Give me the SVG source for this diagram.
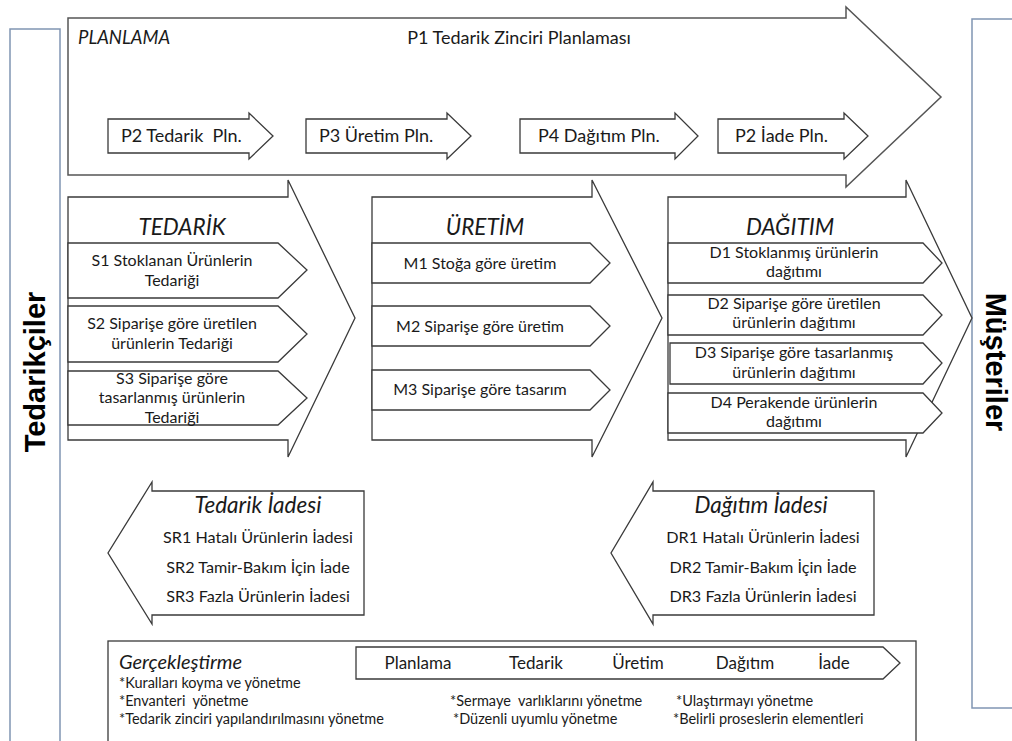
<svg xmlns="http://www.w3.org/2000/svg" width="1012" height="741" viewBox="0 0 1012 741">
  <style>
    .shape { fill: #ffffff; stroke: #3a3a3a; stroke-width: 1.3; stroke-linejoin: miter; }
    .plan { fill: #ffffff; stroke: #555555; stroke-width: 1.5; }
    .side { fill: #ffffff; stroke: #8095b3; stroke-width: 1.5; }
    text { font-family: Lato, "Open Sans", "DejaVu Sans", sans-serif; fill: #1a1a1a; white-space: pre; }
    .c { text-anchor: middle; }
    .it { font-style: italic; }
    .p { font-size: 18px; }
    .title { font-size: 22.5px; font-style: italic; text-anchor: middle; }
    .sub { font-size: 16px; text-anchor: middle; }
    .ret { font-size: 16.2px; text-anchor: middle; }
    .lbl { font-size: 17px; text-anchor: middle; }
    .note { font-size: 14.5px; }
    .side-label { font-family: "Liberation Sans", Arial, sans-serif; font-weight: bold; font-size: 29px; text-anchor: middle; fill: #000000; }
  </style>

  <!-- side bars -->
  <g id="suppliers">
    <rect class="side" x="10" y="29" width="50" height="715"/>
    <text class="side-label" transform="translate(45 372) rotate(-90)">Tedarikçiler</text>
  </g>
  <g id="customers">
    <rect class="side" x="972" y="19" width="50" height="689"/>
    <text class="side-label" transform="translate(986 362) rotate(90)">Müşteriler</text>
  </g>

  <!-- planning arrow -->
  <g id="planlama">
    <polygon class="plan" points="68,18 846,18 846,7 941,97 846,187 846,175 68,175"/>
    <text class="it" x="78" y="44" font-size="18.5">PLANLAMA</text>
    <text class="p c" x="519" y="44">P1 Tedarik Zinciri Planlaması</text>
  </g>
  <g id="p2">
    <polygon class="shape" points="108,119 249,119 249,113 273,136 249,159 249,153 108,153"/>
    <text class="p" x="121" y="142">P2 Tedarik  Pln.</text>
  </g>
  <g id="p3">
    <polygon class="shape" points="306,119 447,119 447,113 471,136 447,159 447,153 306,153"/>
    <text class="p" x="319" y="142">P3 Üretim Pln.</text>
  </g>
  <g id="p4">
    <polygon class="shape" points="520,119 675,119 675,113 698,136 675,159 675,153 520,153"/>
    <text class="p" x="538" y="142">P4 Dağıtım Pln.</text>
  </g>
  <g id="p5">
    <polygon class="shape" points="718,119 844,119 844,113 868,136 844,159 844,153 718,153"/>
    <text class="p" x="735" y="142">P2 İade Pln.</text>
  </g>

  <!-- source stage -->
  <g id="tedarik">
    <polygon class="shape" points="68,197 288,197 288,180 355,318 288,457 288,440 68,440"/>
    <text class="title" x="182" y="235">TEDARİK</text>
    <polygon class="shape" points="68,243 278,243 307,270 278,298 68,298"/>
    <text class="sub" x="172" y="266">S1 Stoklanan Ürünlerin</text>
    <text class="sub" x="172" y="286">Tedariği</text>
    <polygon class="shape" points="68,306 278,306 307,334 278,362 68,362"/>
    <text class="sub" x="172" y="329">S2 Siparişe göre üretilen</text>
    <text class="sub" x="172" y="349">ürünlerin Tedariği</text>
    <polygon class="shape" points="68,371 278,371 307,398 278,425 68,425"/>
    <text class="sub" x="172" y="384">S3 Siparişe göre</text>
    <text class="sub" x="172" y="403">tasarlanmış ürünlerin</text>
    <text class="sub" x="172" y="423">Tedariği</text>
  </g>

  <!-- make stage -->
  <g id="uretim">
    <polygon class="shape" points="372,197 592,197 592,180 662,318 592,457 592,440 372,440"/>
    <text class="title" x="485" y="235">ÜRETİM</text>
    <polygon class="shape" points="372,243 590,243 610,263 590,283 372,283"/>
    <text class="sub" x="480" y="269">M1 Stoğa göre üretim</text>
    <polygon class="shape" points="372,306 590,306 610,326 590,346 372,346"/>
    <text class="sub" x="480" y="332">M2 Siparişe göre üretim</text>
    <polygon class="shape" points="372,370 590,370 610,390 590,410 372,410"/>
    <text class="sub" x="480" y="395">M3 Siparişe göre tasarım</text>
  </g>

  <!-- deliver stage -->
  <g id="dagitim">
    <polygon class="shape" points="668,197 906,197 906,180 972,318 906,457 906,440 668,440"/>
    <text class="title" x="790" y="235">DAĞITIM</text>
    <polygon class="shape" points="668,243 923,243 942,263 923,283 668,283"/>
    <text class="sub" x="794" y="258">D1 Stoklanmış ürünlerin</text>
    <text class="sub" x="794" y="277">dağıtımı</text>
    <polygon class="shape" points="668,295 923,295 942,315 923,335 668,335"/>
    <text class="sub" x="794" y="309">D2 Siparişe göre üretilen</text>
    <text class="sub" x="794" y="328">ürünlerin dağıtımı</text>
    <polygon class="shape" points="670,343 923,343 942,363 923,384 670,384 670,343"/>
    <text class="sub" x="794" y="358">D3 Siparişe göre tasarlanmış</text>
    <text class="sub" x="794" y="378">ürünlerin dağıtımı</text>
    <polygon class="shape" points="668,393 923,393 942,413 923,433 668,433"/>
    <text class="sub" x="794" y="408">D4 Perakende ürünlerin</text>
    <text class="sub" x="794" y="427">dağıtımı</text>
  </g>

  <!-- return arrows -->
  <g id="tedarik-iadesi">
    <polygon class="shape" points="364,491 152,491 152,482 108,553 152,624 152,615 364,615"/>
    <text class="title" x="258" y="513">Tedarik İadesi</text>
    <text class="ret" x="258" y="543">SR1 Hatalı Ürünlerin İadesi</text>
    <text class="ret" x="258" y="573">SR2 Tamir-Bakım İçin İade</text>
    <text class="ret" x="258" y="602">SR3 Fazla Ürünlerin İadesi</text>
  </g>
  <g id="dagitim-iadesi">
    <polygon class="shape" points="874,491 653,491 653,482 611,553 653,624 653,615 874,615"/>
    <text class="title" x="761" y="513">Dağıtım İadesi</text>
    <text class="ret" x="763" y="543">DR1 Hatalı Ürünlerin İadesi</text>
    <text class="ret" x="763" y="573">DR2 Tamir-Bakım İçin İade</text>
    <text class="ret" x="763" y="602">DR3 Fazla Ürünlerin İadesi</text>
  </g>

  <!-- enable block -->
  <g id="gerceklestirme">
    <rect class="shape" x="108" y="641" width="808" height="110"/>
    <polygon class="shape" points="356,647 883,647 900,663 883,679 356,679"/>
    <text class="lbl" x="418" y="669">Planlama</text>
    <text class="lbl" x="536" y="669">Tedarik</text>
    <text class="lbl" x="638" y="669">Üretim</text>
    <text class="lbl" x="745" y="669">Dağıtım</text>
    <text class="lbl" x="834" y="669">İade</text>
    <text class="it" x="119" y="669" font-size="20">Gerçekleştirme</text>
    <text class="note" x="119" y="688">*Kuralları koyma ve yönetme</text>
    <text class="note" x="119" y="706">*Envanteri  yönetme</text>
    <text class="note" x="119" y="724">*Tedarik zinciri yapılandırılmasını yönetme</text>
    <text class="note" x="450" y="706">*Sermaye  varlıklarını yönetme</text>
    <text class="note" x="453" y="724">*Düzenli uyumlu yönetme</text>
    <text class="note" x="676" y="706">*Ulaştırmayı yönetme</text>
    <text class="note" x="673" y="724">*Belirli proseslerin elementleri</text>
  </g>

  <g id="connectors"></g>
</svg>
